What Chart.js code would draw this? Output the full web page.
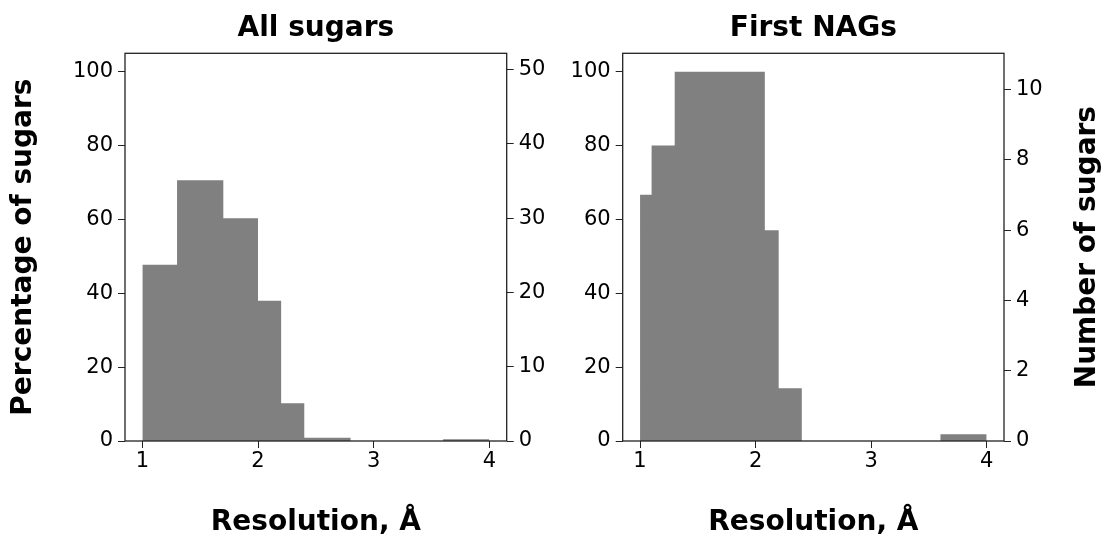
<!DOCTYPE html>
<html>
<head>
<meta charset="utf-8">
<script src="https://cdn.jsdelivr.net/npm/chart.js@4.4.0/dist/chart.umd.min.js"></script>
<style>
  body { margin: 0; background: #fff; }
  .panel { position: absolute; top: 0; width: 552px; height: 535px; }
</style>
</head>
<body>
<div class="panel" style="left:0"><canvas id="allChart" width="552" height="535"></canvas></div>
<div class="panel" style="left:552px"><canvas id="nagChart" width="552" height="535"></canvas></div>
<script>
// histogram bin edges and bar heights (percent)
const allEdges = [1.0, 1.3, 1.7, 2.0, 2.2, 2.4, 2.8, 3.6, 4.0];
const allPercent = [47.7, 70.6, 60.3, 38.0, 10.2, 0.9, 0, 0.45];
const nagEdges = [1.0, 1.1, 1.3, 2.08, 2.2, 2.4, 3.6, 4.0];
const nagPercent = [66.7, 80.0, 100, 57.1, 14.3, 0, 1.8];

const xTicks = [1, 2, 3, 4];
const percentTicks = [0, 20, 40, 60, 80, 100];
const allCountTicks = [0, 10, 20, 30, 40, 50];
const nagCountTicks = [0, 2, 4, 6, 8, 10];

Chart.defaults.font.family = 'DejaVu Sans';
Chart.defaults.color = '#000';

const BAR = '#808080';
const INK = '#222';

function steps(edges, vals) {
  // one point per edge, last edge repeats the last height
  return edges.map((e, i) => ({ x: e, y: vals[Math.min(i, vals.length - 1)] }));
}

function tickGrid() {
  return { drawOnChartArea: false, drawTicks: true, tickLength: 7, color: INK, lineWidth: 1 };
}

function setTicks(list) {
  return (scale) => { scale.ticks = list.map(v => ({ value: v })); };
}

const framePlugin = {
  id: 'frame',
  afterDraw(chart) {
    const { ctx, chartArea: a } = chart;
    ctx.save();
    ctx.strokeStyle = INK;
    ctx.lineWidth = 1.3;
    ctx.strokeRect(a.left, a.top, a.right - a.left, a.bottom - a.top);
    ctx.restore();
  }
};

const rightLabelPlugin = {
  id: 'rightLabel',
  afterDraw(chart) {
    const { ctx, chartArea: a } = chart;
    ctx.save();
    ctx.translate(536, (a.top + a.bottom) / 2);
    ctx.rotate(-Math.PI / 2);
    ctx.font = 'bold 28px "DejaVu Sans"';
    ctx.textAlign = 'center';
    ctx.textBaseline = 'middle';
    ctx.fillStyle = '#000';
    ctx.fillText('Number of sugars', 0, 0);
    ctx.restore();
  }
};

function makeChart(id, title, edges, vals, cfg) {
  const plugins = [framePlugin];
  if (cfg.rightLabel) plugins.push(rightLabelPlugin);

  return new Chart(document.getElementById(id), {
    type: 'line',
    data: {
      datasets: [{
        data: steps(edges, vals),
        stepped: 'before',
        fill: 'origin',
        backgroundColor: BAR,
        borderColor: 'rgba(0,0,0,0)',
        borderWidth: 0,
        pointRadius: 0
      }]
    },
    options: {
      responsive: false,
      animation: false,
      layout: { padding: 0 },
      scales: {
        x: {
          type: 'linear',
          min: 0.85,
          max: 4.15,
          afterBuildTicks: setTicks(xTicks),
          afterFit: (s) => { s.height = 94; },
          grid: tickGrid(),
          border: { display: false },
          ticks: { font: { size: 21 }, padding: 1, color: '#000' },
          title: {
            display: true,
            text: 'Resolution, Å',
            font: { size: 28, weight: 'bold', lineHeight: 0.9 },
            padding: { top: 0, bottom: 0 },
            color: '#000'
          }
        },
        y: {
          type: 'linear',
          position: 'left',
          min: 0,
          max: 105,
          afterBuildTicks: setTicks(percentTicks),
          afterFit: (s) => { s.width = cfg.leftWidth; },
          grid: tickGrid(),
          border: { display: false },
          ticks: { font: { size: 21 }, padding: 5, color: '#000' },
          title: {
            display: cfg.leftTitle,
            text: 'Percentage of sugars',
            font: { size: 28, weight: 'bold', lineHeight: 1 },
            padding: { top: 10, bottom: 0 },
            color: '#000'
          }
        },
        y2: {
          type: 'linear',
          position: 'right',
          min: 0,
          max: cfg.countMax,
          afterBuildTicks: setTicks(cfg.countTicks),
          afterFit: (s) => { s.width = cfg.rightWidth; },
          grid: tickGrid(),
          border: { display: false },
          ticks: { font: { size: 21 }, padding: 5, color: '#000' }
        }
      },
      plugins: {
        legend: { display: false },
        tooltip: { enabled: false },
        title: {
          display: true,
          text: title,
          fullSize: false,
          font: { size: 28, weight: 'bold', lineHeight: 1 },
          padding: { top: 15, bottom: 10.3 },
          color: '#000'
        }
      }
    },
    plugins: plugins
  });
}

makeChart('allChart', 'All sugars', allEdges, allPercent, {
  leftWidth: 125, rightWidth: 45.3, leftTitle: true,
  countMax: 52.2, countTicks: allCountTicks, rightLabel: false
});

makeChart('nagChart', 'First NAGs', nagEdges, nagPercent, {
  leftWidth: 70.7, rightWidth: 100, leftTitle: false,
  countMax: 11.03, countTicks: nagCountTicks, rightLabel: true
});
</script>
</body>
</html>
